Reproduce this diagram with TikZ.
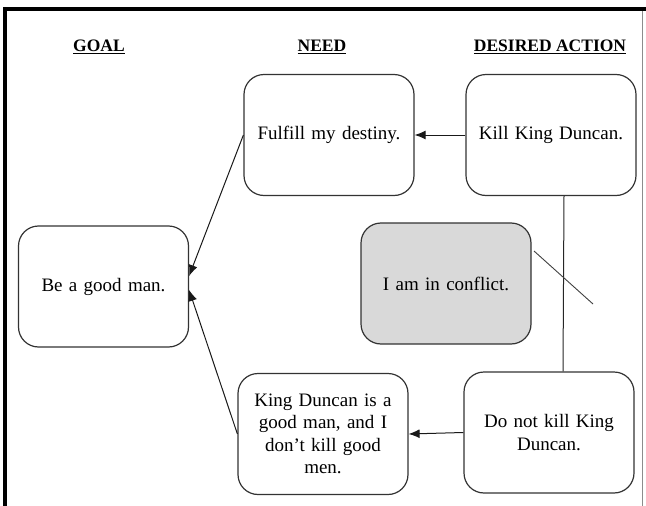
\documentclass[tikz,border=0pt]{standalone}
\usepackage{fontspec}
\setmainfont{Liberation Serif}
\usetikzlibrary{arrows.meta}
\begin{document}
\begin{tikzpicture}[x=1pt,y=-1pt,
  box/.style={draw=black!80, line width=1.2pt, rounded corners=20pt,
    minimum width=170pt, minimum height=121pt, align=center,
    text width=150pt, inner sep=0pt,
    font=\fontsize{19}{22.5}\selectfont},
  head/.style={font=\fontsize{17.5}{20}\selectfont\bfseries, anchor=base, inner sep=0pt},
  arr/.style={-{Latex[length=11pt,width=9pt]}, line width=1pt, draw=black!90},
  link/.style={line width=1pt, draw=black!85}]
\useasboundingbox (0,0) rectangle (646,506);
% frame
\draw[line width=4pt] (3,9) -- (646,9);
\draw[line width=4pt] (5,7) -- (5,506);
\draw[line width=0.8pt, black!45] (642,11) -- (642,506);
% headers
\node[head] (hgoal) at (99,52) {\underline{GOAL}};
\node[head] (hneed) at (322,52) {\underline{NEED}};
\node[head] (hact) at (550,52) {\underline{DESIRED ACTION}};
% boxes
\node[box] (goal) at (103.5,286.5) {Be a good man.};
\node[box] (need) at (329,135) {Fulfill my destiny.};
\node[box] (act) at (551,135) {Kill King Duncan.};
\node[box, fill=black!15] (conf) at (446,283.5) {I am in conflict.};
\node[box] (kdg) at (323,434) {King Duncan is a\\ good man, and I\\ don't kill good\\ men.};
\node[box] (dnk) at (549,432.5) {Do not kill King\\ Duncan.};
% connectors
\draw[arr] (act.west) -- (need.east);
\draw[arr] (dnk.west) -- (kdg.east);
\draw[arr] (need.west) -- ([yshift=10.5pt]goal.east);
\draw[arr] (kdg.west) -- ([yshift=-3.5pt]goal.east);
\draw[link] ([xshift=13pt]act.south) -- ([xshift=14pt]dnk.north);
\coordinate (s1) at (534,251);
\coordinate (s2) at (593,304);
\draw[line width=0.9pt, black!75] (s1) -- (s2);
\end{tikzpicture}
\end{document}
